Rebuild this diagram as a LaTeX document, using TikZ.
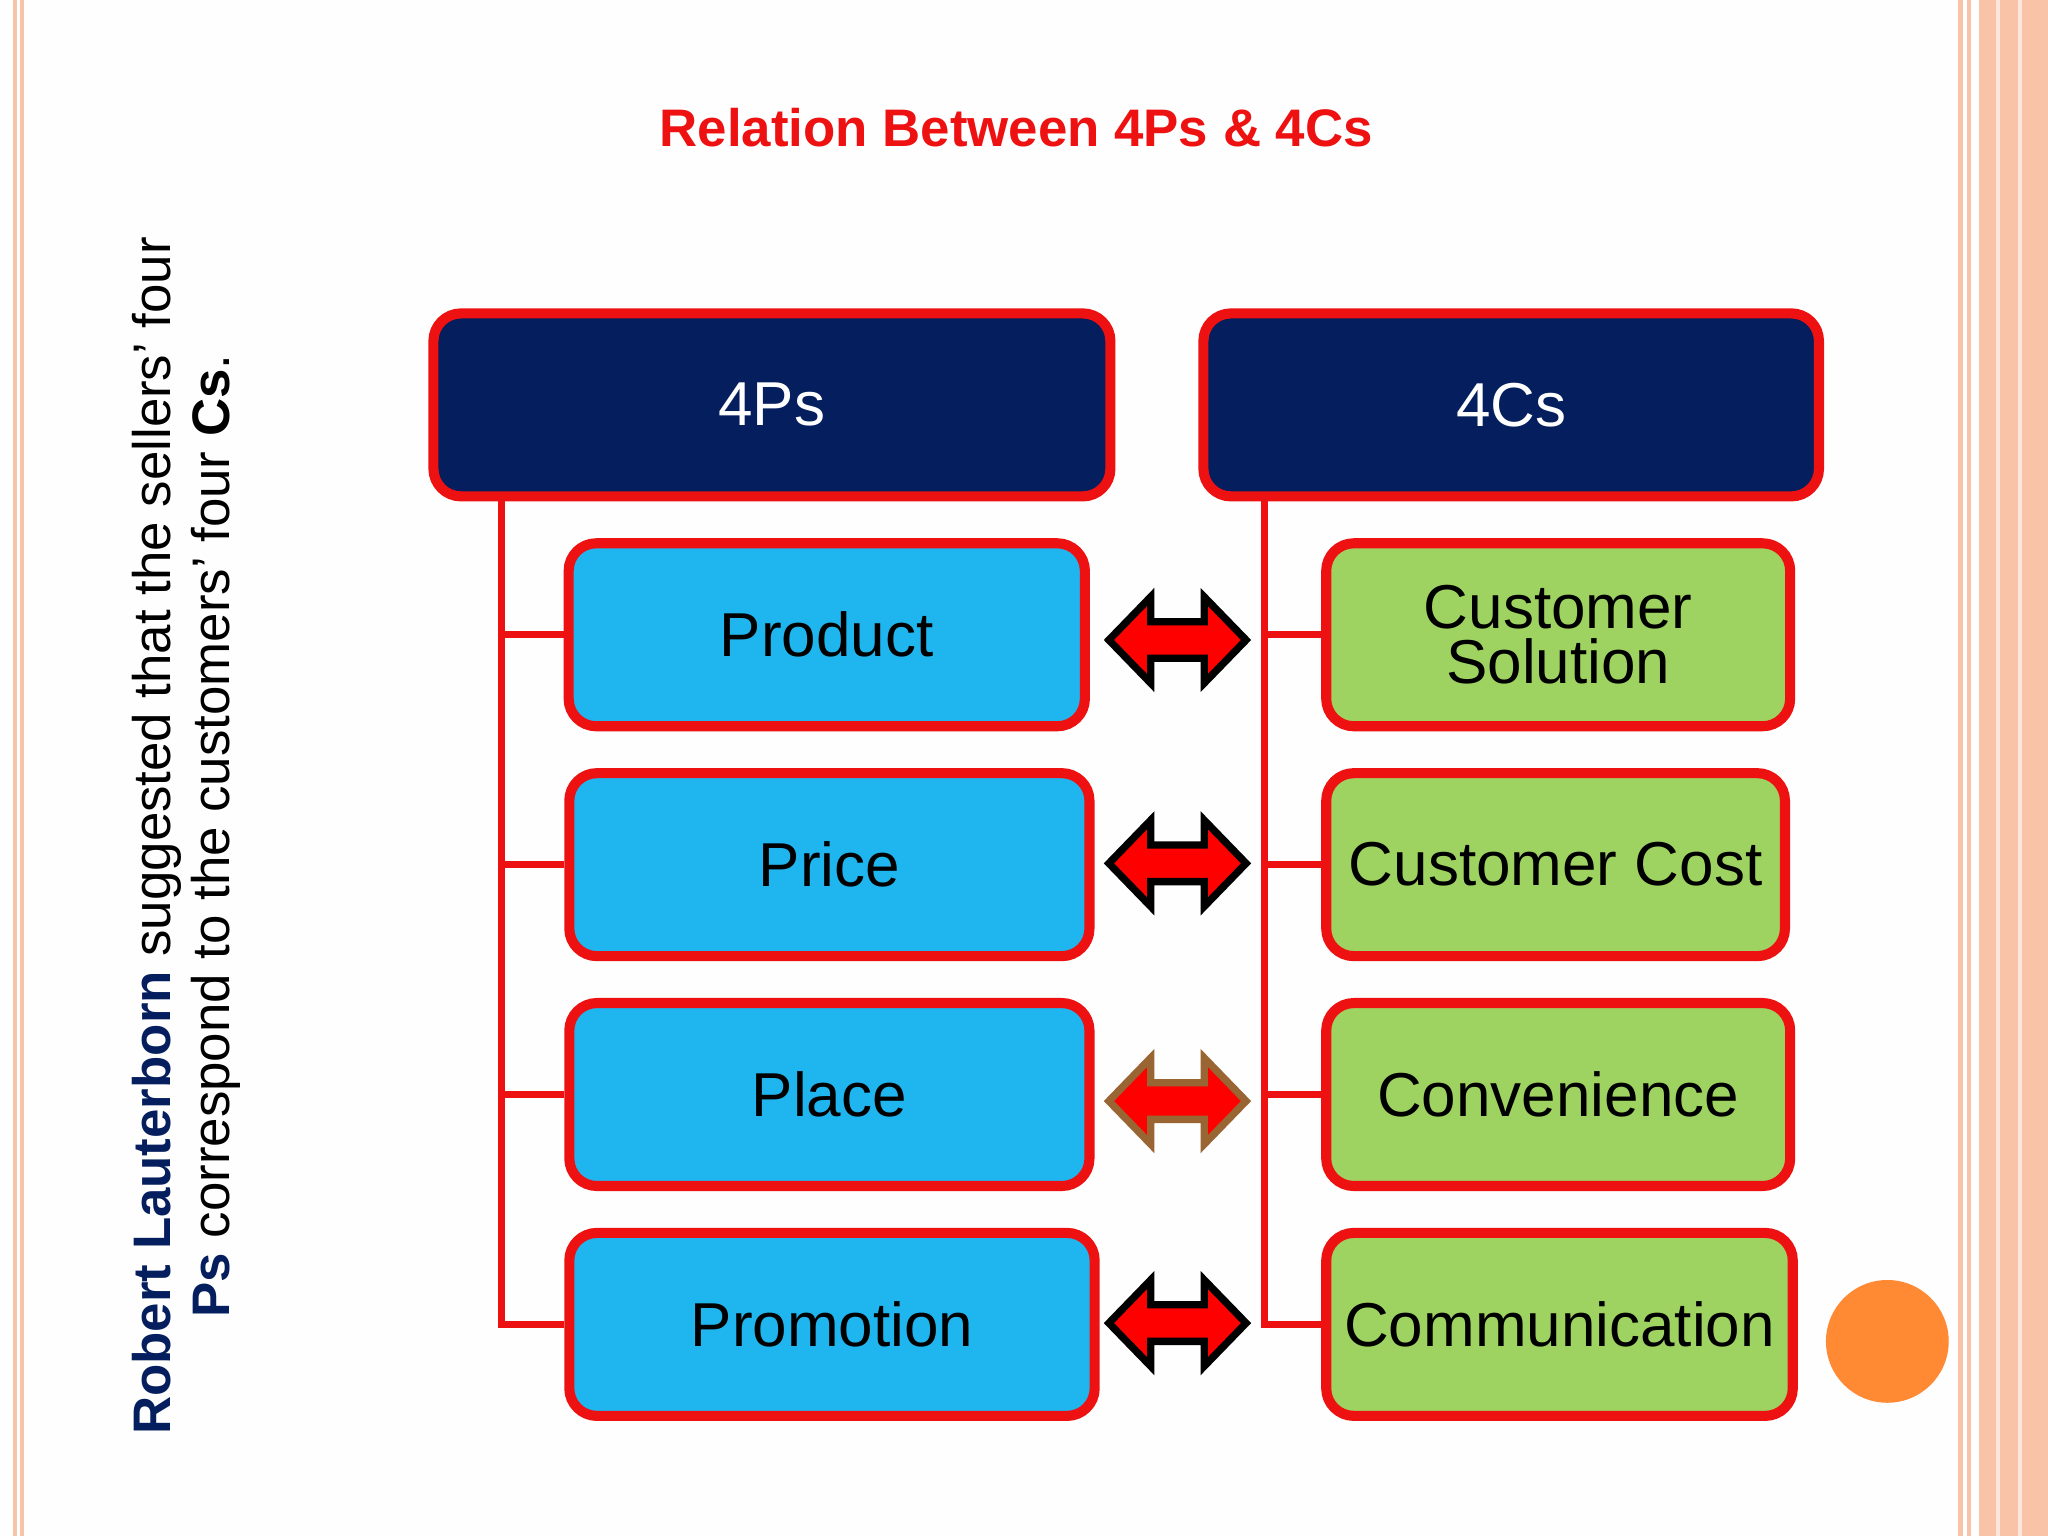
\documentclass[tikz,border=0pt]{standalone}
\usepackage{fontspec}
\setmainfont{Liberation Sans}
\definecolor{navy}{HTML}{041E5E}
\definecolor{cyanb}{HTML}{1FB5EE}
\definecolor{greenb}{HTML}{9FD361}
\definecolor{salmon}{HTML}{F9C3A8}
\definecolor{orangec}{HTML}{FF8A33}
\definecolor{redt}{HTML}{EE1111}
\definecolor{bgc}{HTML}{FEFEFE}
\begin{document}
\begin{tikzpicture}[x=0.01cm,y=-0.01cm,
  box/.style={draw=redt,line width=2.2pt,rounded corners=6pt,inner sep=0pt,align=center,font=\fontsize{13.5}{14}\selectfont},
  head/.style={box,fill=navy,text=white},
  pbox/.style={box,fill=cyanb,text=black},
  cbox/.style={box,fill=greenb,text=black},
  tree/.style={draw=redt,line width=1.6pt},
  dbl/.style={fill=red,draw=black,line width=1.6pt,line join=miter}]
\useasboundingbox (0,0) rectangle (1568,1176);
\fill[bgc] (0,0) rectangle (1568,1176);
% borders
\fill[salmon] (10,0) rectangle (13,1176);
\fill[salmon] (15,0) rectangle (18,1176);
\fill[salmon] (1499,0) rectangle (1503,1176);
\fill[salmon] (1506,0) rectangle (1509,1176);
\fill[salmon] (1515,0) rectangle (1568,1176);
\fill[white!60!salmon] (1528,0) rectangle (1531,1176);
\fill[white!60!salmon] (1545,0) rectangle (1548,1176);
% title
\node[text=redt,font=\bfseries\fontsize{11.5}{12}\selectfont] (title) at (778,98) {Relation Between 4Ps \& 4Cs};
% side text
\node[rotate=90,text=black,font=\fontsize{11.5}{12}\selectfont] (side1) at (120,640)
  {\textcolor{navy}{\bfseries Robert Lauterborn} suggested that the sellers’ four};
\node[rotate=90,text=black,font=\fontsize{11.5}{12}\selectfont] (side2) at (165,640)
  {\textcolor{navy}{\bfseries Ps} correspond to the customers’ four \textbf{Cs}.};
% headers
\node[head,minimum width=518\pgflinewidth*0+5.18cm,minimum height=1.40cm] (P) at (591,310) {4Ps};
\node[head,minimum width=4.71cm,minimum height=1.40cm] (C) at (1157,310) {4Cs};
% boxes
\node[pbox,minimum width=3.95cm,minimum height=1.40cm] (p1) at (633,486) {Product};
\node[pbox,minimum width=3.98cm,minimum height=1.40cm] (p2) at (635,662) {Price};
\node[pbox,minimum width=3.98cm,minimum height=1.40cm] (p3) at (635,838) {Place};
\node[pbox,minimum width=4.02cm,minimum height=1.40cm] (p4) at (637,1014) {Promotion};
\node[cbox,minimum width=3.55cm,minimum height=1.40cm] (c1) at (1193,486) {Customer\\[-2pt]Solution};
\node[cbox,minimum width=3.51cm,minimum height=1.40cm] (c2) at (1191,662) {Customer Cost};
\node[cbox,minimum width=3.55cm,minimum height=1.40cm] (c3) at (1193,838) {Convenience};
\node[cbox,minimum width=3.57cm,minimum height=1.40cm] (c4) at (1194,1014) {Communication};
% trees
\coordinate (pt) at (384,381); \coordinate (ct) at (968,381);
\draw[tree] (pt) -- (384,1014) -- (p4.west);
\foreach \n in {p1,p2,p3} \draw[tree] (pt |- \n.west) -- (\n.west);
\draw[tree] (ct) -- (968,1014) -- (c4.west);
\foreach \n in {c1,c2,c3} \draw[tree] (ct |- \n.west) -- (\n.west);
% double arrows
\foreach \cy/\oc in {490/black,661/black,843/brown!80!black,1013/black}{
  \draw[dbl,draw=\oc] (849,\cy) -- (881,\cy-33) -- (881,\cy-14) -- (922,\cy-14) -- (922,\cy-33)
   -- (954,\cy) -- (922,\cy+33) -- (922,\cy+14) -- (881,\cy+14) -- (881,\cy+33) -- cycle;
}
% circle
\fill[orangec] (1445,1027) circle (47);
\end{tikzpicture}
\end{document}
